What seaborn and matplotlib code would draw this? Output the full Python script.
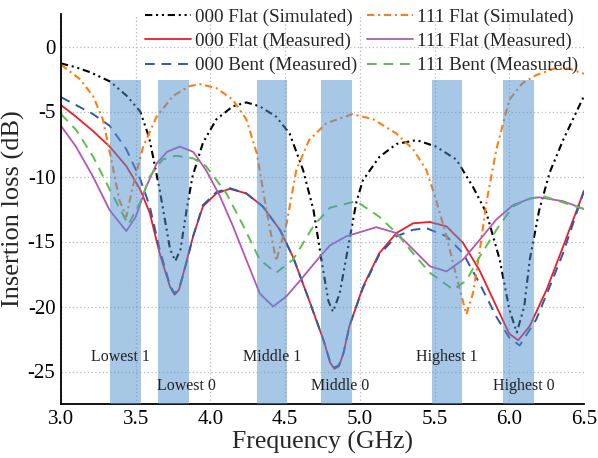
import matplotlib
matplotlib.use("Agg")
import matplotlib.pyplot as plt
import seaborn as sns
import pandas as pd

# ---------------- data ----------------
f_000_sim = [3.0, 3.1, 3.2, 3.33, 3.44, 3.53, 3.59, 3.66, 3.73, 3.765, 3.80, 3.84, 3.88, 3.95, 4.04,
             4.15, 4.24, 4.33, 4.44, 4.53, 4.62, 4.69, 4.75, 4.79, 4.82, 4.865, 4.93, 4.976, 5.02,
             5.13, 5.245, 5.38, 5.51, 5.646, 5.757, 5.847, 5.936, 6.0, 6.05, 6.10, 6.137, 6.2,
             6.27, 6.36, 6.5]
il_000_sim = [-1.3, -1.6, -2.0, -2.7, -3.8, -5.0, -7.0, -11.0, -15.6, -16.5, -15.6, -12.6, -10.0, -7.4,
              -5.6, -4.6, -4.3, -4.6, -5.4, -6.7, -9.5, -12.6, -16.9, -19.6, -20.4, -19.0, -14.9,
              -12.0, -10.3, -8.5, -7.5, -7.2, -7.7, -8.7, -10.8, -12.8, -16.4, -20.2, -22.0, -20.0,
              -16.4, -12.6, -9.7, -7.2, -3.8]

f_111_sim = [3.0, 3.125, 3.214, 3.28, 3.337, 3.39, 3.437, 3.48, 3.55, 3.64, 3.75, 3.86, 3.93, 4.04,
             4.15, 4.24, 4.31, 4.375, 4.44, 4.51, 4.575, 4.66, 4.776, 4.95, 5.09, 5.245, 5.356,
             5.445, 5.51, 5.58, 5.646, 5.713, 5.757, 5.8, 5.847, 5.914, 6.0, 6.09, 6.18, 6.3,
             6.4, 6.5]
il_111_sim = [-1.4, -2.5, -3.8, -5.6, -8.7, -11.8, -13.1, -10.8, -7.7, -5.4, -3.8, -3.05, -2.9, -3.2,
              -4.1, -5.6, -8.2, -12.6, -16.5, -13.6, -9.5, -7.2, -5.9, -5.2, -5.6, -6.7, -7.9,
              -9.5, -11.8, -14.6, -17.7, -20.6, -19.0, -15.9, -12.0, -7.9, -4.1, -2.8, -2.2, -1.7,
              -1.7, -2.1]

f_000_flat = [3.0, 3.1, 3.214, 3.326, 3.437, 3.53, 3.594, 3.66, 3.73, 3.76, 3.79, 3.82, 3.884, 3.95,
              4.04, 4.13, 4.24, 4.35, 4.465, 4.553, 4.66, 4.76, 4.80, 4.83, 4.86, 4.89, 4.93,
              4.976, 5.02, 5.13, 5.245, 5.356, 5.468, 5.58, 5.69, 5.8, 5.914, 6.0, 6.06, 6.137,
              6.25, 6.36, 6.5]
il_000_flat = [-4.5, -5.4, -6.5, -7.7, -9.2, -11.0, -12.8, -15.9, -18.5, -19.1, -18.7, -17.4, -14.6,
               -12.3, -11.3, -10.95, -11.3, -12.3, -14.1, -16.2, -19.5, -22.7, -24.3, -24.8, -24.6,
               -23.6, -21.5, -20.0, -18.5, -15.9, -14.35, -13.6, -13.5, -13.84, -15.1, -17.2,
               -20.0, -22.1, -22.6, -21.5, -18.7, -15.4, -11.1]

f_000_bent = [3.0, 3.1, 3.214, 3.326, 3.437, 3.53, 3.594, 3.66, 3.73, 3.76, 3.79, 3.82, 3.884, 3.95,
              4.04, 4.13, 4.24, 4.35, 4.465, 4.553, 4.66, 4.76, 4.80, 4.83, 4.86, 4.89, 4.93,
              4.976, 5.02, 5.13, 5.245, 5.356, 5.445, 5.58, 5.69, 5.8, 5.914, 6.0, 6.07, 6.18,
              6.27, 6.36, 6.5]
il_000_bent = [-3.9, -4.5, -5.2, -6.1, -7.9, -10.2, -12.3, -15.6, -18.4, -19.0, -18.6, -17.5, -14.6,
               -12.2, -11.2, -10.9, -11.3, -12.3, -14.1, -16.2, -19.5, -22.7, -24.2, -24.7, -24.5,
               -23.6, -21.5, -20.0, -18.6, -16.0, -14.6, -14.1, -13.97, -14.6, -15.9, -18.2,
               -20.8, -22.4, -23.0, -21.0, -18.5, -15.9, -11.1]

f_111_flat = [3.0, 3.10, 3.214, 3.326, 3.437, 3.50, 3.57, 3.64, 3.71, 3.795, 3.884, 3.97, 4.063,
              4.15, 4.24, 4.33, 4.42, 4.51, 4.6, 4.73, 4.80, 4.91, 5.11, 5.245, 5.356, 5.468,
              5.58, 5.69, 5.8, 5.914, 6.025, 6.137, 6.2, 6.36, 6.5]
il_111_flat = [-6.1, -7.7, -10.0, -12.6, -14.2, -13.1, -10.8, -9.0, -8.1, -7.7, -8.1, -9.5, -11.5,
               -13.8, -16.4, -19.0, -20.0, -19.2, -18.0, -16.2, -15.3, -14.6, -13.9, -14.35, -15.6,
               -16.9, -17.3, -16.4, -14.9, -13.3, -12.2, -11.7, -11.6, -11.9, -12.5]

f_111_bent = [3.0, 3.10, 3.214, 3.326, 3.45, 3.53, 3.594, 3.68, 3.77, 3.884, 3.97, 4.107, 4.22, 4.33,
              4.44, 4.553, 4.69, 4.80, 4.976, 5.13, 5.245, 5.356, 5.468, 5.625, 5.713, 5.8, 5.914,
              6.025, 6.137, 6.225, 6.36, 6.5]
il_111_bent = [-5.2, -6.4, -8.45, -11.0, -13.7, -12.0, -10.0, -8.7, -8.4, -8.6, -9.2, -11.3, -13.8,
               -16.4, -17.4, -16.4, -13.8, -12.4, -11.9, -13.1, -14.35, -15.9, -17.4, -18.7, -18.0,
               -16.2, -14.1, -12.3, -11.7, -11.5, -12.0, -12.5]

band_lo = [3.33, 3.65, 4.31, 4.74, 5.48, 5.96]
band_hi = [3.535, 3.855, 4.515, 4.945, 5.685, 6.165]
band_names = ["Lowest 1", "Lowest 0", "Middle 1", "Middle 0", "Highest 1", "Highest 0"]
band_label_x = [3.40, 3.84, 4.41, 4.87, 5.58, 6.10]
band_label_y = [-23.9, -26.1, -23.9, -26.1, -23.9, -26.1]

# ---------------- style ----------------
sns.set_style("white")
plt.rcParams["font.family"] = ["Liberation Serif", "DejaVu Serif"]
plt.rcParams["axes.unicode_minus"] = False

fig = plt.figure(figsize=(5.98, 4.58), dpi=100)
ax = fig.add_axes([61 / 598, 1 - 404 / 458, (584 - 61) / 598, (404 - 14) / 458])

series = [
    ("000 Flat (Simulated)", f_000_sim, il_000_sim, "black", (0, (3.5, 1.8, 1, 1.8, 1, 1.8)), 1.5),
    ("000 Flat (Measured)", f_000_flat, il_000_flat, "#ee1c24", "-", 1.3),
    ("000 Bent (Measured)", f_000_bent, il_000_bent, "#2c5aa8", (0, (5, 3.5)), 1.4),
    ("111 Flat (Simulated)", f_111_sim, il_111_sim, "#ff7f0e", (0, (3.5, 1.8, 1, 1.8)), 1.5),
    ("111 Flat (Measured)", f_111_flat, il_111_flat, "#b556b5", "-", 1.3),
    ("111 Bent (Measured)", f_111_bent, il_111_bent, "#5cbf4a", (0, (5, 3.5)), 1.4),
]

for name, fx, fy, col, ls, lw in series:
    df = pd.DataFrame({"f": fx, "il": fy})
    sns.lineplot(data=df, x="f", y="il", ax=ax, color=col, linestyle=ls, linewidth=lw,
                 label=name, estimator=None, sort=False, zorder=2, legend=False)

ylo, yhi = -27.5, 2.5
band_top = -2.6
for lo, hi in zip(band_lo, band_hi):
    ax.axvspan(lo, hi, ymin=0, ymax=(band_top - ylo) / (yhi - ylo),
               color="#5191d1", alpha=0.5, lw=0, zorder=3)

for name, bx, by in zip(band_names, band_label_x, band_label_y):
    ax.text(bx, by, name, ha="center", va="center", fontsize=11.5, color="#222222", zorder=4)

ax.set_xlim(3.0, 6.5)
ax.set_ylim(ylo, yhi)
ax.set_xticks([3.0, 3.5, 4.0, 4.5, 5.0, 5.5, 6.0, 6.5])
ax.set_xticklabels(["3.0", "3.5", "4.0", "4.5", "5.0", "5.5", "6.0", "6.5"])
ax.set_yticks([0, -5, -10, -15, -20, -25])
ax.set_yticklabels(["0", "-5", "-10", "-15", "-20", "-25"])
ax.tick_params(axis="both", length=0, labelsize=15, pad=4, colors="black")
ax.grid(True, linestyle=(0, (1, 2)), color="#b8b8b8", linewidth=0.9, zorder=0)
ax.set_axisbelow(True)
for s in ["top", "right"]:
    ax.spines[s].set_visible(False)
for s in ["left", "bottom"]:
    ax.spines[s].set_color("black")
    ax.spines[s].set_linewidth(1.3)

ax.set_xlabel("Frequency (GHz)", fontsize=18.5, labelpad=2)
ax.set_ylabel("Insertion loss (dB)", fontsize=19, labelpad=2)

handles, labels = ax.get_legend_handles_labels()
fig.legend(handles, labels, loc="upper right", bbox_to_anchor=(586 / 598, 1.0), ncol=2,
           frameon=False, fontsize=13.8, handlelength=2.4, handletextpad=0.2,
           columnspacing=0.5, labelspacing=0.36, borderpad=0.42, borderaxespad=0.0)

fig.savefig("out.png", dpi=100)
